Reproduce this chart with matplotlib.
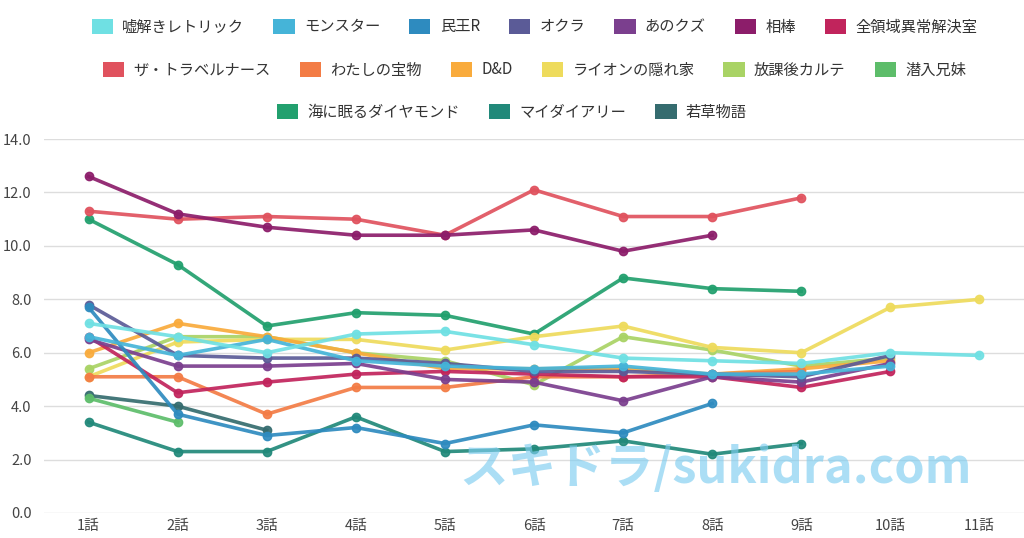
import matplotlib.pyplot as plt
from matplotlib.patches import Patch

plt.rcParams['font.family'] = ['Noto Sans CJK JP', 'DejaVu Sans']

episodes = ["1話", "2話", "3話", "4話", "5話", "6話", "7話", "8話", "9話", "10話", "11話"]

usotoki = [7.1, 6.6, 6.0, 6.7, 6.8, 6.3, 5.8, 5.7, 5.6, 6.0, 5.9]
monster = [6.6, 5.9, 6.5, 5.7, 5.5, 5.4, 5.5, 5.2, 5.2, 5.5]
tamiou = [7.7, 3.7, 2.9, 3.2, 2.6, 3.3, 3.0, 4.1]
okura = [7.8, 5.9, 5.8, 5.8, 5.6, 5.3, 5.3, 5.2, 5.1, 5.9]
anokuzu = [6.5, 5.5, 5.5, 5.6, 5.0, 4.9, 4.2, 5.1, 4.9, 5.6]
aibou = [12.6, 11.2, 10.7, 10.4, 10.4, 10.6, 9.8, 10.4]
zenryoiki = [6.6, 4.5, 4.9, 5.2, 5.3, 5.2, 5.1, 5.1, 4.7, 5.3]
travel_nurse = [11.3, 11.0, 11.1, 11.0, 10.4, 12.1, 11.1, 11.1, 11.8]
watashi = [5.1, 5.1, 3.7, 4.7, 4.7, 5.1, 5.1, 5.2, 5.3]
dd = [6.0, 7.1, 6.6, 6.0, 5.4, 5.4, 5.4, 5.2, 5.4, 5.7]
lion = [5.1, 6.4, 6.5, 6.5, 6.1, 6.6, 7.0, 6.2, 6.0, 7.7, 8.0]
houkago = [5.4, 6.6, 6.6, 6.0, 5.7, 4.8, 6.6, 6.1, 5.5, 5.8]
sennyu = [4.3, 3.4]
umi = [11.0, 9.3, 7.0, 7.5, 7.4, 6.7, 8.8, 8.4, 8.3]
my_diary = [3.4, 2.3, 2.3, 3.6, 2.3, 2.4, 2.7, 2.2, 2.6]
wakakusa = [4.4, 4.0, 3.1]

series = [
    ("嘘解きレトリック", usotoki, "#6fe0e3"),
    ("モンスター", monster, "#45b4d8"),
    ("民王R", tamiou, "#2e8bbf"),
    ("オクラ", okura, "#5b5b97"),
    ("あのクズ", anokuzu, "#7b3f8e"),
    ("相棒", aibou, "#8c1d6a"),
    ("全領域異常解決室", zenryoiki, "#c1245c"),
    ("ザ・トラベルナース", travel_nurse, "#e0525e"),
    ("わたしの宝物", watashi, "#f37c45"),
    ("D&D", dd, "#f9ab3c"),
    ("ライオンの隠れ家", lion, "#eedb5c"),
    ("放課後カルテ", houkago, "#a9d365"),
    ("潜入兄妹", sennyu, "#5dbd6a"),
    ("海に眠るダイヤモンド", umi, "#22a06e"),
    ("マイダイアリー", my_diary, "#21897a"),
    ("若草物語", wakakusa, "#356c6f"),
]

fig = plt.figure(figsize=(10.24, 5.38), dpi=100)
ax = fig.add_axes([0.043, 0.0465, 0.957, 0.695])

n_series = len(series)
for i, (name, values, color) in enumerate(series):
    ax.plot(episodes[:len(values)], values, color=color, linewidth=2.6,
            marker="o", markersize=6, alpha=0.92, zorder=10 + n_series - i)

ax.set_xlim(-0.5, 10.5)
ax.set_ylim(0, 14)
ax.set_yticks([0, 2, 4, 6, 8, 10, 12, 14])
ax.set_yticklabels([f"{v:.1f}" for v in [0, 2, 4, 6, 8, 10, 12, 14]])
ax.grid(axis="y", color="#dddddd", linewidth=1)
ax.set_axisbelow(True)
for s in ax.spines.values():
    s.set_visible(False)
ax.tick_params(axis="both", length=0, labelsize=10.5, colors="#444444")
ax.tick_params(axis="y", pad=9)
ax.tick_params(axis="x", pad=4)

# watermark
ax.text(0.685, 0.12, "スキドラ/sukidra.com", transform=ax.transAxes,
        ha="center", va="center", fontsize=35, fontweight="bold",
        color="#7fcdf0", alpha=0.65, zorder=40)

# legend in three centered rows
rows = [series[0:7], series[7:13], series[13:16]]
row_pos = [(0.522, 1 - 27 / 538), (0.522, 1 - 70 / 538), (0.5, 1 - 112 / 538)]
for row, pos in zip(rows, row_pos):
    handles = [Patch(facecolor=c, edgecolor="none", label=n) for n, v, c in row]
    fig.legend(handles=handles, loc="center", bbox_to_anchor=pos,
               ncol=len(handles), frameon=False, fontsize=11,
               handlelength=1.4, handleheight=1.2, handletextpad=0.6,
               columnspacing=1.9, labelcolor="#333333")

plt.savefig("out.png", dpi=100)
